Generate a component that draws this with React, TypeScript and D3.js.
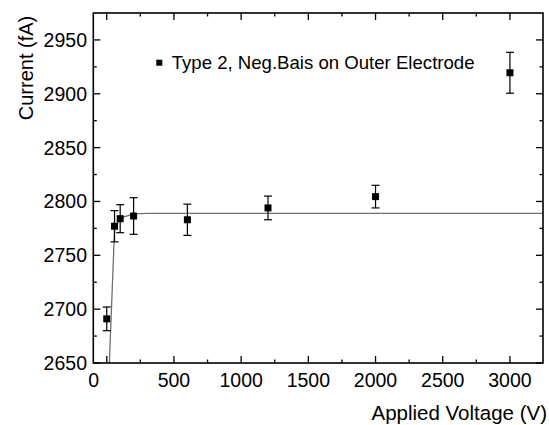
import React from "react";
import * as d3 from "d3";

const voltages = [0, 58, 100, 200, 600, 1200, 2000, 3000];
const currents = [2691, 2777, 2784, 2786.5, 2783, 2794, 2804.5, 2919.5];
const errors = [11, 14.5, 13, 17, 14.5, 11, 10.5, 19];

const fitX = [19.5, 58, 100, 200, 300, 3245];
const fitY = [2650, 2774, 2784.5, 2788.5, 2789, 2789];

const xMajorTicks = [0, 500, 1000, 1500, 2000, 2500, 3000];
const xMinorTicks = [250, 750, 1250, 1750, 2250, 2750];
const yMajorTicks = [2650, 2700, 2750, 2800, 2850, 2900, 2950];
const yMinorTicks = [2675, 2725, 2775, 2825, 2875, 2925];

const legendLabel = "Type 2, Neg.Bais on Outer Electrode";
const xTitle = "Applied Voltage (V)";
const yTitle = "Current (fA)";

const W = 549;
const H = 425;
const L = 93.3, R = 543, T = 13, B = 363;
const FONT = "'Liberation Sans', Arial, sans-serif";

export default function App() {
  const x = d3.scaleLinear().domain([-100, 3246]).range([L, R]);
  const y = d3.scaleLinear().domain([2650, 2975]).range([B, T]);
  const line = d3
    .line<number>()
    .x((_, i) => x(fitX[i]))
    .y((d) => y(d));
  const majorLen = 7;
  const minorLen = 3.5;
  const sq = 7;
  const cap = 4;

  return (
    <svg
      width={W}
      height={H}
      style={{ position: "absolute", left: 0, top: 0, background: "#fff" }}
      fontFamily={FONT}
    >
      <defs>
        <clipPath id="plotclip">
          <rect x={L} y={T} width={R - L} height={B - T} />
        </clipPath>
      </defs>
      <rect x={0} y={0} width={W} height={H} fill="#fff" />
      {/* fit line */}
      <path
        d={line(fitY) || ""}
        fill="none"
        stroke="#707070"
        strokeWidth={1.3}
        clipPath="url(#plotclip)"
      />
      {/* error bars and points */}
      {voltages.map((v, i) => {
        const cx = x(v);
        const top = y(currents[i] + errors[i]);
        const bot = y(currents[i] - errors[i]);
        return (
          <g key={i}>
            <line x1={cx} x2={cx} y1={top} y2={bot} stroke="#000" strokeWidth={1.2} />
            <line x1={cx - cap} x2={cx + cap} y1={top} y2={top} stroke="#000" strokeWidth={1.2} />
            <line x1={cx - cap} x2={cx + cap} y1={bot} y2={bot} stroke="#000" strokeWidth={1.2} />
            <rect x={cx - sq / 2} y={y(currents[i]) - sq / 2} width={sq} height={sq} fill="#000" />
          </g>
        );
      })}
      {/* ticks */}
      {xMajorTicks.map((t) => (
        <g key={"xm" + t}>
          <line x1={x(t)} x2={x(t)} y1={B} y2={B - majorLen} stroke="#000" strokeWidth={1.3} />
          <line x1={x(t)} x2={x(t)} y1={T} y2={T + majorLen} stroke="#000" strokeWidth={1.3} />
          <text
            x={x(t) + (t === 0 ? -13 : 0)}
            y={387}
            textAnchor="middle"
            fontSize={19.5}
            fill="#000"
          >
            {t}
          </text>
        </g>
      ))}
      {xMinorTicks.map((t) => (
        <g key={"xn" + t}>
          <line x1={x(t)} x2={x(t)} y1={B} y2={B - minorLen} stroke="#000" strokeWidth={1.3} />
          <line x1={x(t)} x2={x(t)} y1={T} y2={T + minorLen} stroke="#000" strokeWidth={1.3} />
        </g>
      ))}
      {yMajorTicks.map((t) => (
        <g key={"ym" + t}>
          <line x1={L} x2={L + majorLen} y1={y(t)} y2={y(t)} stroke="#000" strokeWidth={1.3} />
          <line x1={R} x2={R - majorLen} y1={y(t)} y2={y(t)} stroke="#000" strokeWidth={1.3} />
          <text
            x={87}
            y={y(t)}
            dy="0.36em"
            textAnchor="end"
            fontSize={19.5}
            fill="#000"
          >
            {t}
          </text>
        </g>
      ))}
      {yMinorTicks.map((t) => (
        <g key={"yn" + t}>
          <line x1={L} x2={L + minorLen} y1={y(t)} y2={y(t)} stroke="#000" strokeWidth={1.3} />
          <line x1={R} x2={R - minorLen} y1={y(t)} y2={y(t)} stroke="#000" strokeWidth={1.3} />
        </g>
      ))}
      {/* frame */}
      <rect x={L} y={T} width={R - L} height={B - T} fill="none" stroke="#000" strokeWidth={1.6} />
      {/* legend */}
      <rect x={159.3 - 3} y={62.7 - 3} width={6} height={6} fill="#000" />
      <text x={171.7} y={69} fontSize={18.6} fill="#000">
        {legendLabel}
      </text>
      {/* axis titles */}
      <text x={547} y={420} textAnchor="end" fontSize={20.5} fill="#000">
        {xTitle}
      </text>
      <text
        transform="translate(33,68) rotate(-90)"
        textAnchor="middle"
        fontSize={20}
        fill="#000"
      >
        {yTitle}
      </text>
    </svg>
  );
}
